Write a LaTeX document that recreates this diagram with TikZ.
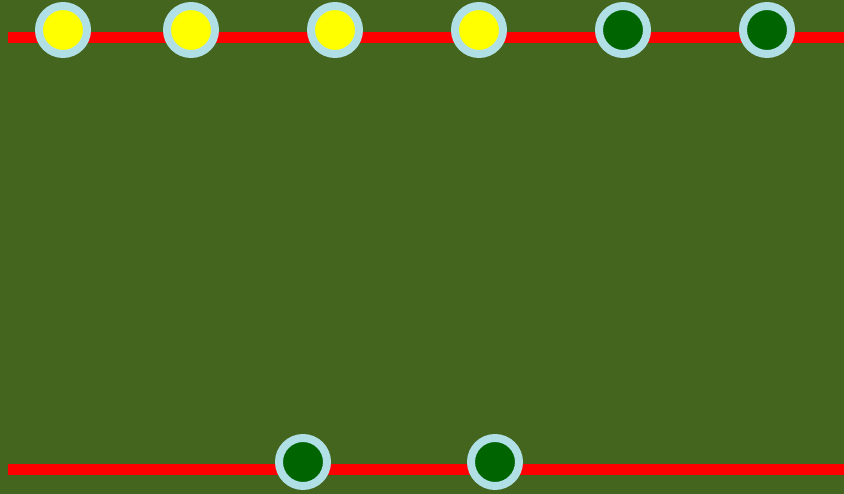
\documentclass[tikz,border=0pt]{standalone}
\definecolor{bggreen}{RGB}{68,101,30}
\definecolor{ringblue}{RGB}{176,224,230}
\definecolor{darkgr}{RGB}{0,100,0}
\definecolor{wirered}{RGB}{255,0,0}
\definecolor{lampyellow}{RGB}{255,255,0}
\tikzset{
  pin/.style={circle, draw=ringblue, line width=8pt, minimum size=48pt, inner sep=0pt},
  litpin/.style={pin, fill=lampyellow},
  offpin/.style={pin, fill=darkgr},
  wire/.style={draw=wirered, line width=11pt}
}
\begin{document}
\begin{tikzpicture}[x=1pt,y=-1pt]
\fill[bggreen] (0,0) rectangle (844,494);
\useasboundingbox (0,0) rectangle (844,494);
\coordinate (t0) at (8,37.5);
\coordinate (t1) at (844,37.5);
\coordinate (b0) at (8,469.5);
\coordinate (b1) at (844,469.5);
\draw[wire] (t0) -- (t1);
\draw[wire] (b0) -- (b1);
\node[litpin] (p1) at (63,30) {};
\node[litpin] (p2) at (191,30) {};
\node[litpin] (p3) at (335,30) {};
\node[litpin] (p4) at (479,30) {};
\node[offpin] (p5) at (623,30) {};
\node[offpin] (p6) at (767,30) {};
\node[offpin] (q1) at (303,462) {};
\node[offpin] (q2) at (495,462) {};
\end{tikzpicture}
\end{document}
